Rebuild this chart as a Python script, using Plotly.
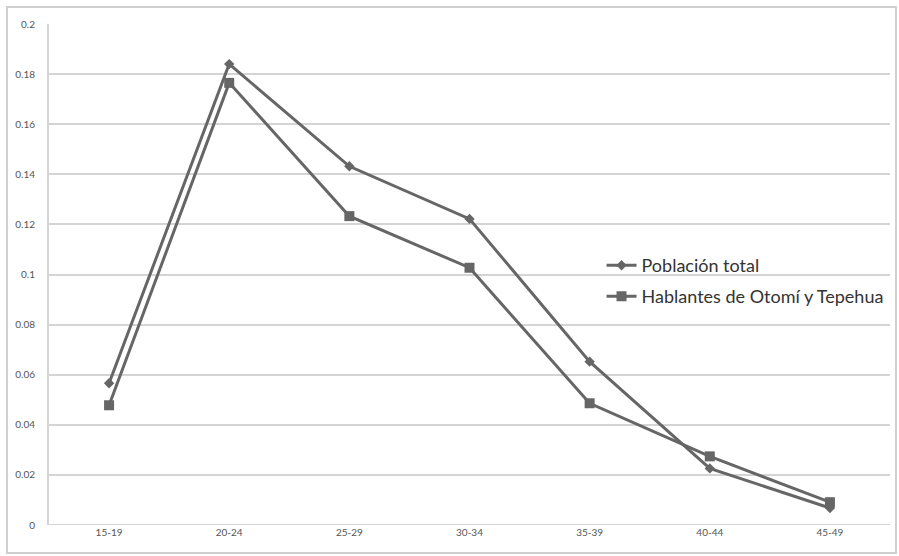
import plotly.graph_objects as go

# Age groups and the share of births in each group
grupos = ["15-19", "20-24", "25-29", "30-34", "35-39", "40-44", "45-49"]
poblacion_total = [0.0566, 0.1840, 0.1432, 0.1222, 0.0652, 0.0226, 0.0068]
hablantes = [0.0478, 0.1765, 0.1233, 0.1027, 0.0486, 0.0274, 0.0091]
y_ticks = [0, 0.02, 0.04, 0.06, 0.08, 0.1, 0.12, 0.14, 0.16, 0.18, 0.2]
y_tick_text = ["0", "0.02", "0.04", "0.06", "0.08", "0.1", "0.12", "0.14", "0.16", "0.18", "0.2"]

LINE = "#666666"
FONT = "Lato, 'Liberation Sans', sans-serif"

fig = go.Figure()
fig.add_trace(go.Scatter(
    x=grupos, y=poblacion_total, name="Población total",
    mode="lines+markers", legend="legend",
    line=dict(color=LINE, width=3),
    marker=dict(symbol="diamond", size=8, color=LINE),
))
fig.add_trace(go.Scatter(
    x=grupos, y=hablantes, name="Hablantes de Otomí y Tepehua",
    mode="lines+markers", legend="legend2",
    line=dict(color=LINE, width=3),
    marker=dict(symbol="square", size=10, color=LINE),
))

legend_style = dict(
    bgcolor="rgba(0,0,0,0)", xanchor="left", yanchor="middle",
    font=dict(family=FONT, size=18, color="#333333"),
    itemwidth=30,
)

fig.update_layout(
    width=899, height=556,
    margin=dict(l=49, r=9, t=24, b=31),
    paper_bgcolor="white", plot_bgcolor="white",
    font=dict(family=FONT, color="#555555"),
    showlegend=True,
    legend=dict(x=0.657, y=0.518, **legend_style),
    legend2=dict(x=0.657, y=0.456, **legend_style),
    xaxis=dict(
        type="category", range=[-0.5, 6.5],
        showgrid=False, showline=False, zeroline=False,
        ticks="", tickfont=dict(size=10, color="#555555"),
        fixedrange=True,
    ),
    yaxis=dict(
        range=[0, 0.2], tickvals=y_ticks, ticktext=y_tick_text,
        showgrid=True, gridcolor="#d4d4d4", gridwidth=2,
        zeroline=False, showline=True, linecolor="#d4d4d4", linewidth=2,
        tickfont=dict(size=10, color="#555555"), ticks="", ticklabelstandoff=10,
        fixedrange=True,
    ),
    shapes=[
        # outer chart frame
        dict(type="rect", xref="paper", yref="paper",
             x0=-0.0499, x1=1.0071, y0=-0.0559, y1=1.0339,
             line=dict(color="#cfcfcf", width=2), fillcolor="rgba(0,0,0,0)", layer="below"),
        # category axis baseline
        dict(type="line", xref="paper", yref="y", x0=0, x1=1, y0=0, y1=0,
             line=dict(color="#d4d4d4", width=2), layer="below"),
    ],
)

fig.write_html("out.html")
